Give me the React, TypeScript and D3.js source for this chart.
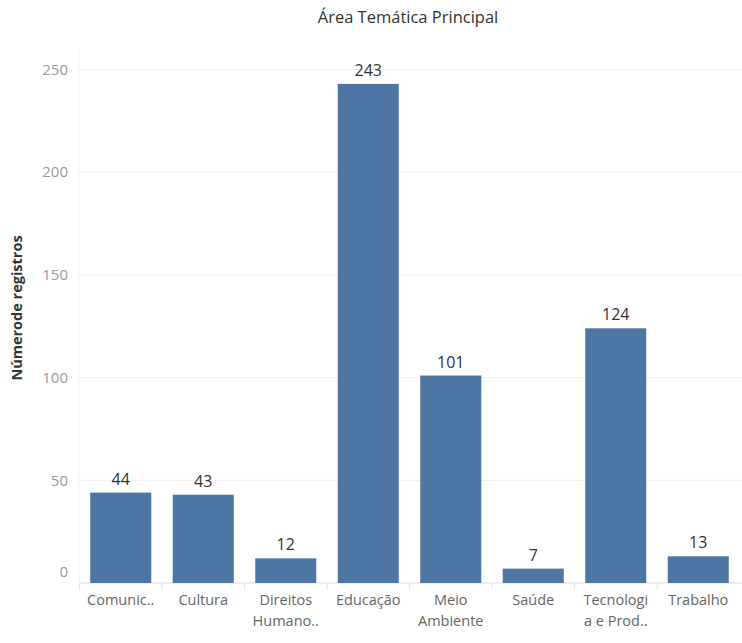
import React from "react";
import * as d3 from "d3";

const categories = ["Comunic..", "Cultura", "Direitos Humano..", "Educação", "Meio Ambiente", "Saúde", "Tecnologi a e Prod..", "Trabalho"];
const labelLines = [["Comunic.."], ["Cultura"], ["Direitos", "Humano.."], ["Educação"], ["Meio", "Ambiente"], ["Saúde"], ["Tecnologi", "a e Prod.."], ["Trabalho"]];
const values = [44, 43, 12, 243, 101, 7, 124, 13];
const yTicks = [0, 50, 100, 150, 200, 250];

const W = 742, H = 643;
const FONT = "'Open Sans', Lato, sans-serif";

export default function App() {
  const x = d3.scaleBand<string>().domain(categories).range([79.5, 739.5]).paddingInner(0.26).paddingOuter(0.13);
  const y = d3.scaleLinear().domain([0, 250]).range([583, 69.5]);
  const bw = x.bandwidth();
  return (
    <svg width={W} height={H} style={{ position: "absolute", left: 0, top: 0, background: "#fff" }} fontFamily={FONT}>
      <text x={408} y={23} textAnchor="middle" fontSize={16.5} fill="#333">Área Temática Principal</text>
      {yTicks.map(t => (
        <g key={t}>
          <line x1={79} x2={742} y1={y(t)} y2={y(t)} stroke={t === 0 ? "#ddd" : "#eeeeee"} strokeWidth={1} />
          <text x={68} y={y(t) - (t === 0 ? 11 : 0)} dy="0.35em" textAnchor="end" fontSize={15} fill="#999">{t}</text>
        </g>
      ))}
      <line x1={79} x2={79} y1={50} y2={590} stroke="#f0f0f0" />
      <text transform={`translate(22,${308}) rotate(-90)`} textAnchor="middle" fontSize={14.5} fontWeight={700} fill="#333">Númerode registros</text>
      {categories.map((c, i) => (
        <g key={c}>
          <rect x={x(c)} y={y(values[i])} width={bw} height={y(0) - y(values[i])} fill="#4e76a3" />
          <text x={x(c)! + bw / 2} y={y(values[i]) - 8} textAnchor="middle" fontSize={16} fill="#333">{values[i]}</text>
          <line x1={x(c)! - x.step() * x.paddingInner() / 2} x2={x(c)! - x.step() * x.paddingInner() / 2} y1={583} y2={590} stroke="#e4e4e4" />
          {labelLines[i].map((l, j) => (
            <text key={j} x={x(c)! + bw / 2} y={605 + j * 21} textAnchor="middle" fontSize={14.5} fill="#666">{l}</text>
          ))}
        </g>
      ))}
    </svg>
  );
}
